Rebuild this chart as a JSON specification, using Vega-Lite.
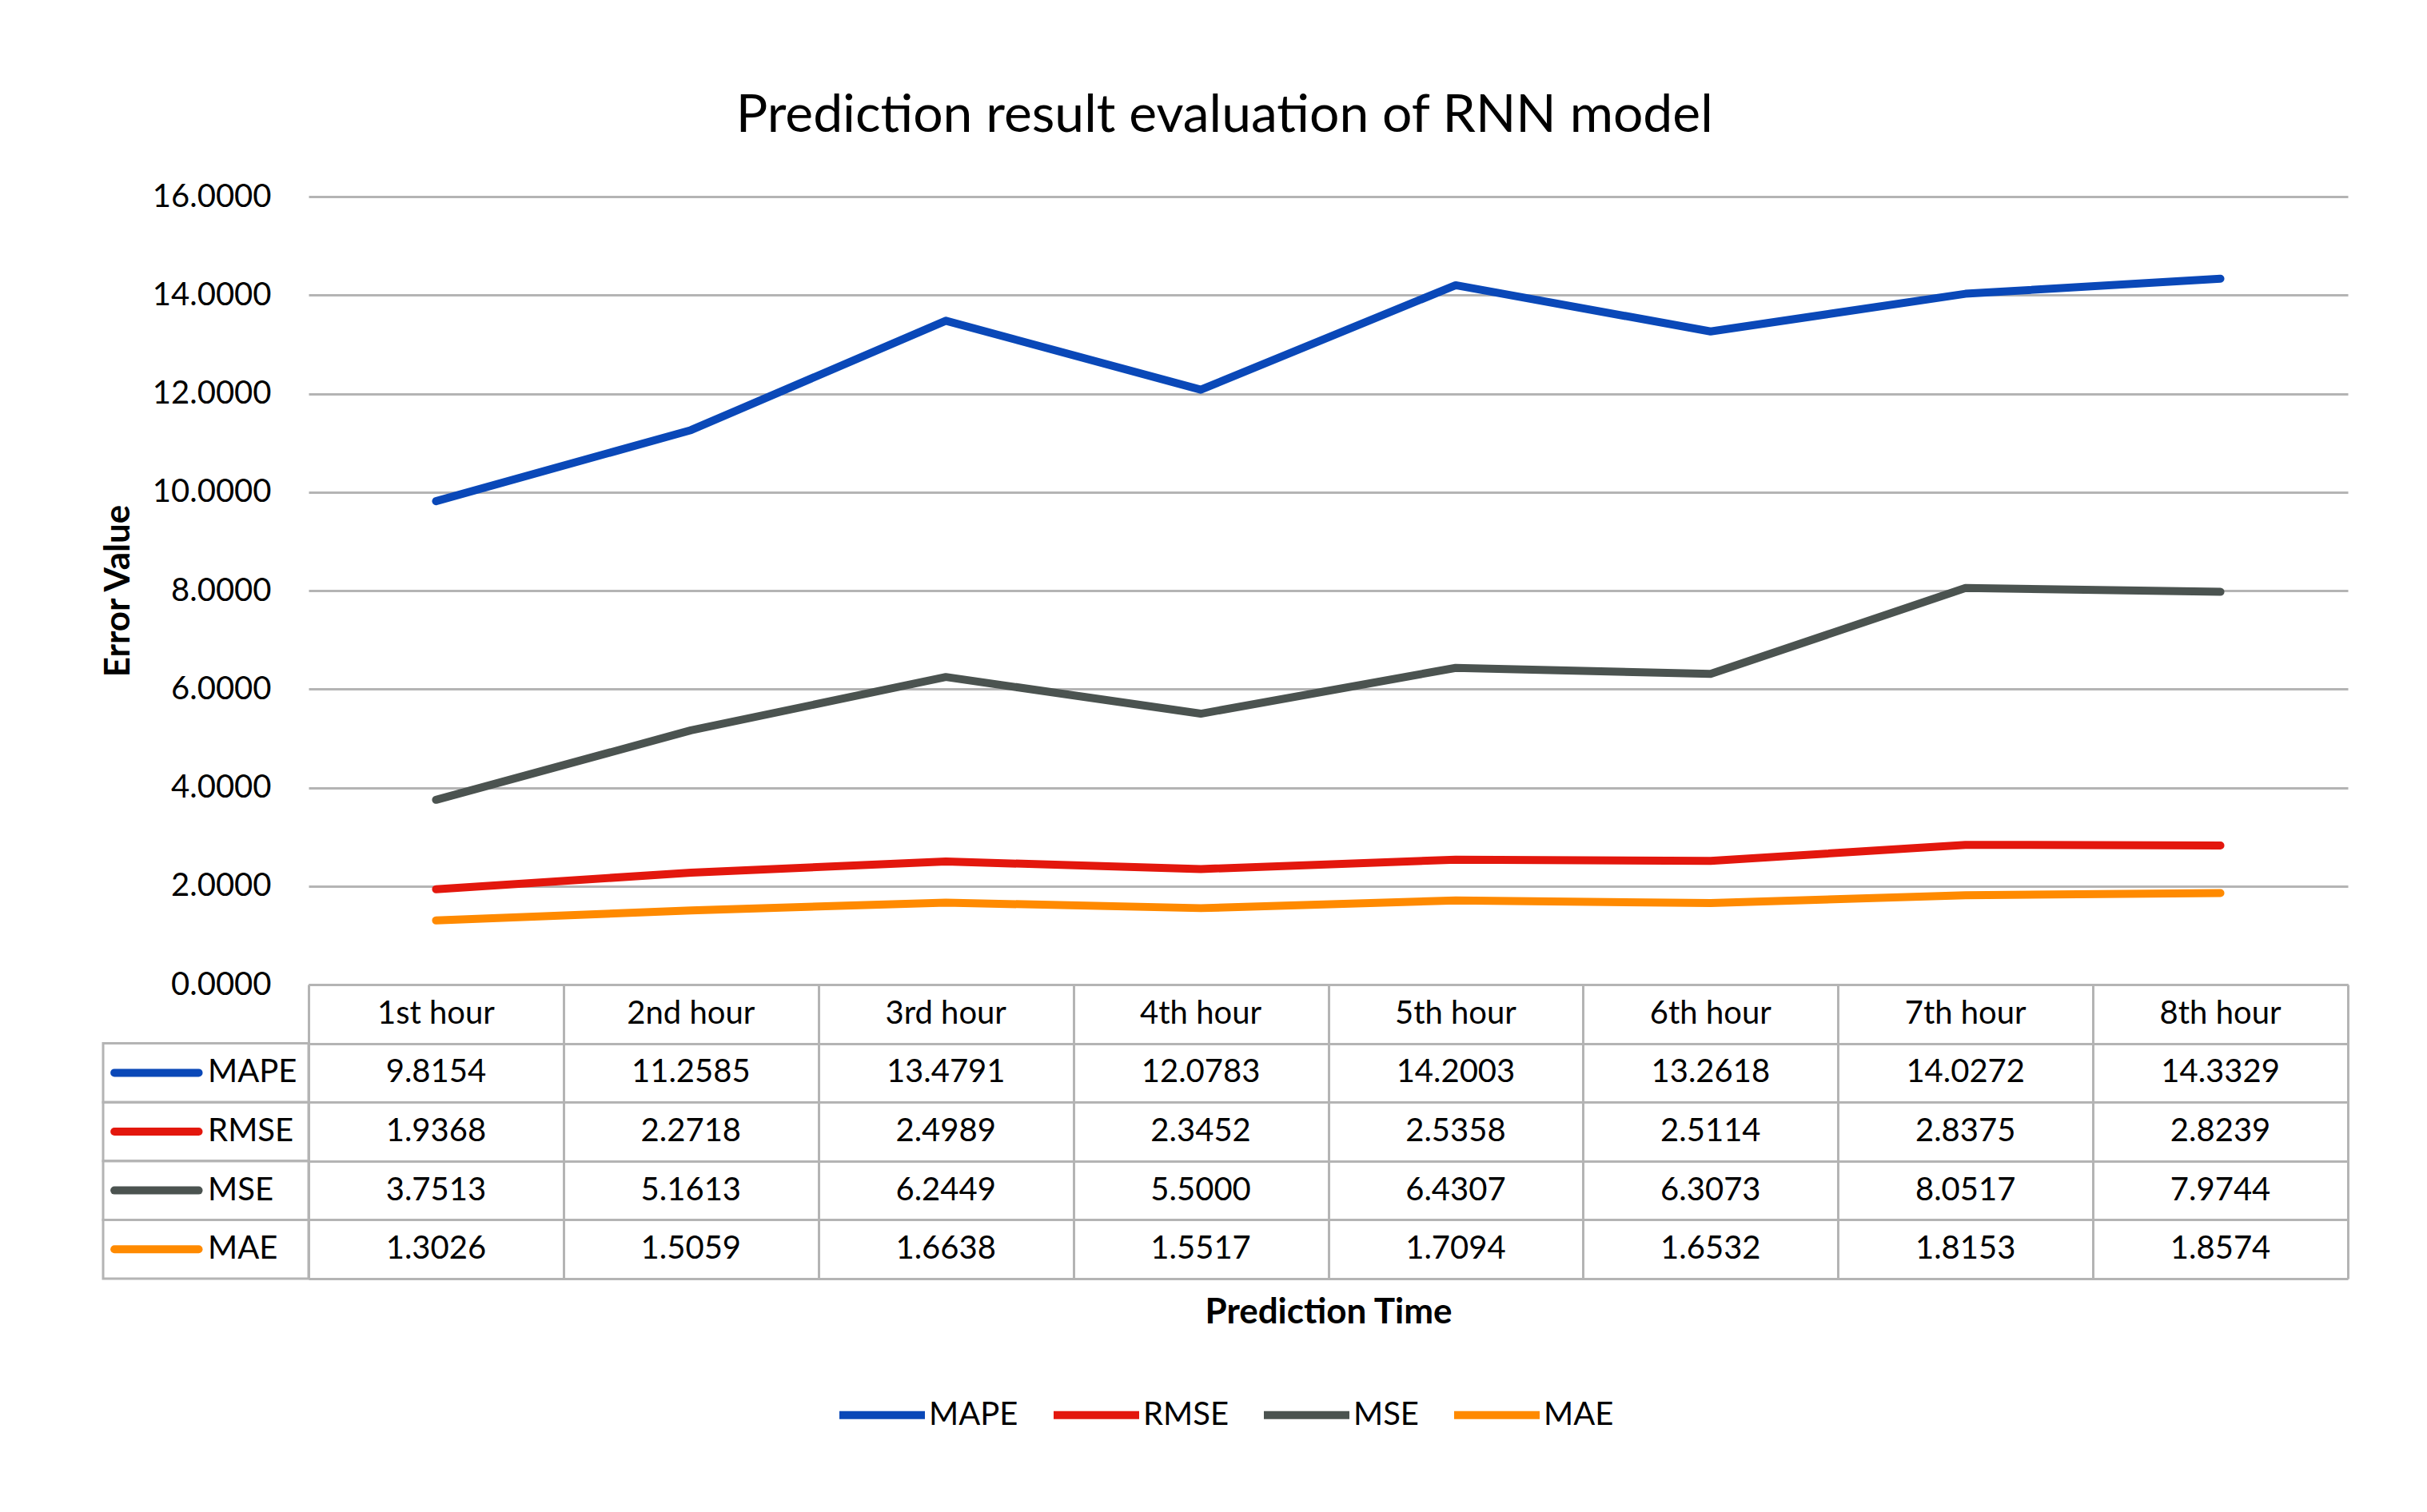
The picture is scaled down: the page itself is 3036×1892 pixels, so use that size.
{
  "$schema": "https://vega.github.io/schema/vega-lite/v6.json",
  "background": "white",
  "padding": {"left": 126, "top": 112, "right": 80, "bottom": 60},
  "title": {"text": "Prediction result evaluation of RNN model", "fontSize": 66, "font": "Lato", "fontWeight": "normal", "color": "#000000", "anchor": "middle", "offset": 47},
  "columns": 2,
  "spacing": 0,
  "bounds": "flush",
  "datasets": {
    "errors": [
      {"series": "MAPE", "hour": "1st hour", "value": 9.8154},
      {"series": "MAPE", "hour": "2nd hour", "value": 11.2585},
      {"series": "MAPE", "hour": "3rd hour", "value": 13.4791},
      {"series": "MAPE", "hour": "4th hour", "value": 12.0783},
      {"series": "MAPE", "hour": "5th hour", "value": 14.2003},
      {"series": "MAPE", "hour": "6th hour", "value": 13.2618},
      {"series": "MAPE", "hour": "7th hour", "value": 14.0272},
      {"series": "MAPE", "hour": "8th hour", "value": 14.3329},
      {"series": "RMSE", "hour": "1st hour", "value": 1.9368},
      {"series": "RMSE", "hour": "2nd hour", "value": 2.2718},
      {"series": "RMSE", "hour": "3rd hour", "value": 2.4989},
      {"series": "RMSE", "hour": "4th hour", "value": 2.3452},
      {"series": "RMSE", "hour": "5th hour", "value": 2.5358},
      {"series": "RMSE", "hour": "6th hour", "value": 2.5114},
      {"series": "RMSE", "hour": "7th hour", "value": 2.8375},
      {"series": "RMSE", "hour": "8th hour", "value": 2.8239},
      {"series": "MSE", "hour": "1st hour", "value": 3.7513},
      {"series": "MSE", "hour": "2nd hour", "value": 5.1613},
      {"series": "MSE", "hour": "3rd hour", "value": 6.2449},
      {"series": "MSE", "hour": "4th hour", "value": 5.5000},
      {"series": "MSE", "hour": "5th hour", "value": 6.4307},
      {"series": "MSE", "hour": "6th hour", "value": 6.3073},
      {"series": "MSE", "hour": "7th hour", "value": 8.0517},
      {"series": "MSE", "hour": "8th hour", "value": 7.9744},
      {"series": "MAE", "hour": "1st hour", "value": 1.3026},
      {"series": "MAE", "hour": "2nd hour", "value": 1.5059},
      {"series": "MAE", "hour": "3rd hour", "value": 1.6638},
      {"series": "MAE", "hour": "4th hour", "value": 1.5517},
      {"series": "MAE", "hour": "5th hour", "value": 1.7094},
      {"series": "MAE", "hour": "6th hour", "value": 1.6532},
      {"series": "MAE", "hour": "7th hour", "value": 1.8153},
      {"series": "MAE", "hour": "8th hour", "value": 1.8574}
    ],
    "hours": [
      {"hour": "1st hour"}, {"hour": "2nd hour"}, {"hour": "3rd hour"}, {"hour": "4th hour"},
      {"hour": "5th hour"}, {"hour": "6th hour"}, {"hour": "7th hour"}, {"hour": "8th hour"}
    ],
    "metrics": [
      {"series": "MAPE"}, {"series": "RMSE"}, {"series": "MSE"}, {"series": "MAE"}
    ]
  },
  "concat": [
    {
      "width": 257,
      "height": 986,
      "data": {"values": []},
      "mark": {"type": "text"},
      "encoding": {}
    },
    {
      "width": 2551,
      "height": 986,
      "data": {"name": "errors"},
      "mark": {"type": "line", "strokeWidth": 10, "strokeCap": "round", "strokeJoin": "round"},
      "encoding": {
        "x": {
          "field": "hour", "type": "nominal",
          "sort": ["1st hour", "2nd hour", "3rd hour", "4th hour", "5th hour", "6th hour", "7th hour", "8th hour"],
          "scale": {"type": "band", "paddingInner": 0, "paddingOuter": 0},
          "axis": null
        },
        "y": {
          "field": "value", "type": "quantitative",
          "scale": {"domain": [0, 16], "nice": false},
          "axis": {
            "values": [0, 2, 4, 6, 8, 10, 12, 14, 16],
            "format": ".4f",
            "title": "Error Value",
            "grid": true,
            "domain": false,
            "ticks": false,
            "labelPadding": 47,
            "titlePadding": 20,
            "titleFontSize": 44,
            "titleFontWeight": "bold"
          }
        },
        "color": {
          "field": "series", "type": "nominal",
          "scale": {"domain": ["MAPE", "RMSE", "MSE", "MAE"], "range": ["#0a48b8", "#e3170d", "#4b5350", "#ff8a00"]},
          "legend": {
            "title": null,
            "orient": "bottom",
            "direction": "horizontal",
            "symbolType": "stroke",
            "symbolSize": 11449,
            "symbolStrokeWidth": 10,
            "labelFontSize": 40,
            "labelFont": "Lato",
            "labelColor": "#000000",
            "columnPadding": 24,
            "labelOffset": 0,
            "offset": 48
          }
        }
      }
    },
    {
      "width": 257,
      "height": 368,
      "data": {"name": "metrics"},
      "encoding": {
        "y": {
          "field": "series", "type": "nominal",
          "scale": {"type": "band", "domain": ["hdr", "MAPE", "RMSE", "MSE", "MAE"], "paddingInner": 0, "paddingOuter": 0},
          "axis": null
        }
      },
      "layer": [
        {
          "mark": {"type": "rect", "fill": "transparent", "stroke": "#b4b4b4", "strokeWidth": 3},
          "encoding": {
            "x": {"datum": 0, "type": "quantitative", "scale": {"domain": [0, 1]}, "axis": null},
            "x2": {"datum": 1}
          }
        },
        {
          "mark": {"type": "rule", "strokeWidth": 10, "strokeCap": "round"},
          "encoding": {
            "x": {"datum": 0.055, "type": "quantitative"},
            "x2": {"datum": 0.465},
            "color": {"field": "series", "type": "nominal", "legend": null}
          }
        },
        {
          "mark": {"type": "text", "align": "left", "baseline": "middle", "fontSize": 40, "font": "Lato", "color": "#000000"},
          "encoding": {
            "x": {"datum": 0.51, "type": "quantitative"},
            "text": {"field": "series"}
          }
        }
      ]
    },
    {
      "width": 2551,
      "height": 368,
      "encoding": {
        "x": {
          "field": "hour", "type": "nominal",
          "sort": ["1st hour", "2nd hour", "3rd hour", "4th hour", "5th hour", "6th hour", "7th hour", "8th hour"],
          "scale": {"type": "band", "paddingInner": 0, "paddingOuter": 0},
          "axis": {"grid": true, "tickBand": "extent", "labels": false, "ticks": false, "domain": false, "title": "Prediction Time", "titlePadding": 20, "titleFontSize": 44, "titleFontWeight": "bold"}
        }
      },
      "layer": [
        {
          "data": {"name": "errors"},
          "mark": {"type": "text", "fontSize": 40, "font": "Lato", "baseline": "middle", "color": "#000000"},
          "encoding": {
            "y": {
              "field": "series", "type": "nominal",
              "scale": {"type": "band", "domain": ["hdr", "MAPE", "RMSE", "MSE", "MAE"], "paddingInner": 0, "paddingOuter": 0},
              "axis": {"grid": true, "tickBand": "extent", "labels": false, "ticks": false, "domain": false, "title": null}
            },
            "text": {"field": "value", "type": "quantitative", "format": ".4f"}
          }
        },
        {
          "data": {"name": "hours"},
          "mark": {"type": "text", "fontSize": 40, "font": "Lato", "baseline": "middle", "color": "#000000"},
          "encoding": {
            "y": {"datum": "hdr", "type": "nominal"},
            "text": {"field": "hour", "type": "nominal"}
          }
        }
      ]
    }
  ],
  "resolve": {"scale": {"x": "independent", "y": "independent"}},
  "config": {
    "view": {"stroke": null},
    "font": "Lato",
    "axis": {
      "labelFont": "Lato", "titleFont": "Lato",
      "labelColor": "#000000", "titleColor": "#000000",
      "labelFontSize": 40, "titleFontSize": 40,
      "gridColor": "#b4b4b4", "gridWidth": 3, "gridOpacity": 1
    },
    "legend": {"layout": {"bottom": {"anchor": "middle"}}}
  }
}
